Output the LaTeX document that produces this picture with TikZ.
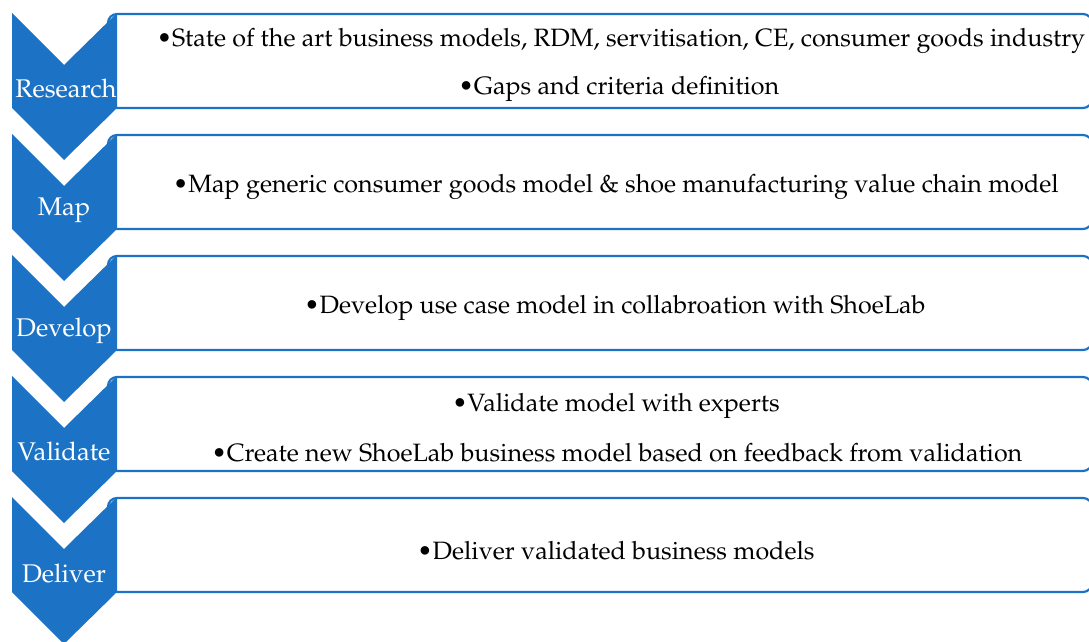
\documentclass[tikz,border=0pt]{standalone}
\usepackage[T1]{fontenc}
\usepackage{mathpazo}
\usepackage{tikz}
\definecolor{stepblue}{RGB}{28,115,198}
\tikzset{
    stage chevron/.style={fill=stepblue, draw=none},
    stage box/.style={draw=stepblue, line width=1.1pt, fill=white, rounded corners=4.5pt},
    stage label/.style={text=white, font=\fontsize{12.8}{15}\selectfont, inner sep=0pt},
    stage text/.style={text=black, font=\fontsize{12.55}{15}\selectfont, inner sep=0pt}
}

\begin{document}
\begin{tikzpicture}[x=0.5pt, y=-0.5pt]
            % page frame and clipping at the right edge
            \useasboundingbox (0, 0) rectangle (1089, 642);
            \clip (0, 0) rectangle (1089, 642);
            % boxes holding the bullet points
            \draw [stage box] (108, 14) rectangle (1092, 108);
            \draw [stage box] (108, 135) rectangle (1092, 229);
            \draw [stage box] (108, 256) rectangle (1092, 350);
            \draw [stage box] (108, 377) rectangle (1092, 471);
            \draw [stage box] (108, 498) rectangle (1092, 592);
            % chevrons pointing down
            \fill [stage chevron] (12, 13) -- (64, 65) -- (117, 13) -- (117, 108) -- (64, 160) -- (12, 108) -- cycle;
            \fill [stage chevron] (12, 134) -- (64, 186) -- (117, 134) -- (117, 229) -- (64, 281) -- (12, 229) -- cycle;
            \fill [stage chevron] (12, 255) -- (64, 307) -- (117, 255) -- (117, 350) -- (64, 402) -- (12, 350) -- cycle;
            \fill [stage chevron] (12, 376) -- (64, 428) -- (117, 376) -- (117, 471) -- (64, 523) -- (12, 471) -- cycle;
            \fill [stage chevron] (12, 497) -- (64, 549) -- (117, 497) -- (117, 592) -- (64, 644) -- (12, 592) -- cycle;
            % step names
            \node [stage label] (research) at (66, 89) {Research};
            \node [stage label] (map) at (64, 210) {Map};
            \node [stage label] (develop) at (64, 331) {Develop};
            \node [stage label] (validate) at (64, 452) {Validate};
            \node [stage label] (deliver) at (64, 574) {Deliver};
            % bullet points
            \node [stage text] (researcha) at (621, 41) {\textbullet State of the art business models, RDM, servitisation, CE, consumer goods industry};
            \node [stage text] (researchb) at (619, 89) {\textbullet Gaps and criteria definition};
            \node [stage text] (mapa) at (616, 187) {\textbullet Map generic consumer goods model \& shoe manufacturing value chain model};
            \node [stage text] (developa) at (615, 308) {\textbullet Develop use case model in collabroation with ShoeLab};
            \node [stage text] (validatea) at (616, 406) {\textbullet Validate model with experts};
            \node [stage text] (validateb) at (617, 453) {\textbullet Create new ShoeLab business model based on feedback from validation};
            \node [stage text] (delivera) at (616, 551) {\textbullet Deliver validated business models};
        \end{tikzpicture}
\end{document}
